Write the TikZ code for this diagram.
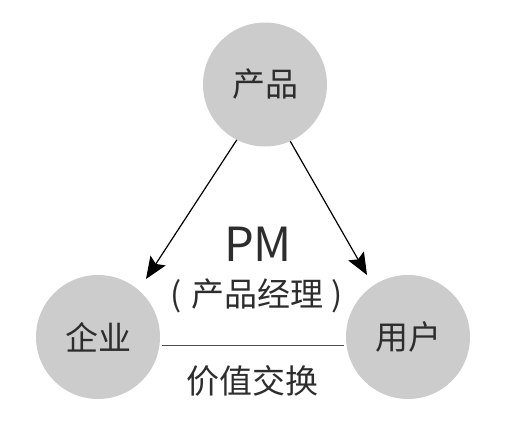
\documentclass[tikz,border=0pt]{standalone}
\usepackage{fontspec}
\setmainfont{Noto Sans CJK SC}
\usetikzlibrary{arrows.meta}
\definecolor{circ}{RGB}{204,204,204}
\definecolor{txt}{RGB}{45,45,45}
\begin{document}
\begin{tikzpicture}[x=1pt,y=-1pt,
  party/.style={circle,fill=circ,minimum size=124pt,inner sep=0pt,text=txt,font=\fontsize{33}{33}\selectfont},
  lab/.style={text=txt,inner sep=0pt},
  arr/.style={line width=1.2pt,-{Stealth[length=22pt,width=18pt,inset=4pt]}},
  link/.style={line width=1pt,draw=txt!85}]
\useasboundingbox (0,0) rectangle (523,442);
\node[party] (top) at (265,84.5) {产品};
\node[party] (left) at (98,337) {企业};
\node[party] (right) at (408,337) {用户};
\coordinate (tipL) at (146,279);
\coordinate (tipR) at (367,275);
\draw[arr] (top.243) -- (tipL);
\draw[arr] (top.294) -- (tipR);
\path (left.east) ++(2,8) coordinate (lA) (right.west) ++(-2,8) coordinate (lB);
\draw[link] (lA) -- (lB);
\node[lab,font=\fontsize{47}{47}\selectfont] (pm) at (258,244) {PM};
\node[lab,font=\fontsize{33}{33}\selectfont] (pmsub) at (257,296) {(\hspace{10pt}产品经理\hspace{8pt})};
\node[lab,font=\fontsize{33}{33}\selectfont] (val) at (252,381) {价值交换};
\end{tikzpicture}
\end{document}
